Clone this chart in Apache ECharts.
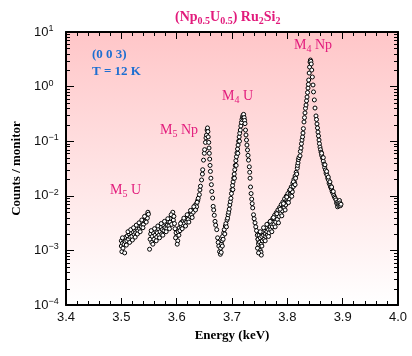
<!DOCTYPE html>
<html><head><meta charset="utf-8">
<script src="https://cdn.jsdelivr.net/npm/echarts@6/dist/echarts.min.js"></script>
<style>html,body{margin:0;padding:0;background:#fff}#c{width:412px;height:356px}</style>
</head><body><div id="c"></div>
<script>
// ---- data (energy keV, counts / monitor) ----
const m5uPoints = [
 [3.500,1.2e-3],[3.500,1.5e-3],[3.501,0.95e-3],[3.502,1.35e-3],[3.503,1.1e-3],[3.504,1.6e-3],[3.505,1.3e-3],
 [3.507,1.45e-3],[3.508,1.75e-3],[3.510,1.5e-3],[3.511,1.85e-3],[3.513,1.6e-3],[3.514,2.0e-3],[3.516,1.75e-3],
 [3.518,2.1e-3],[3.519,1.8e-3],[3.521,2.2e-3],[3.523,1.95e-3],[3.524,2.4e-3],[3.526,2.1e-3],[3.528,2.5e-3],
 [3.530,2.3e-3],[3.531,2.8e-3],[3.533,2.5e-3],[3.535,3.0e-3],[3.536,2.7e-3],[3.538,3.3e-3],[3.540,3.0e-3],
 [3.541,3.6e-3],[3.543,3.4e-3],[3.544,4.0e-3],[3.546,4.4e-3],[3.547,3.9e-3],[3.548,5.0e-3],[3.549,4.6e-3],
 [3.551,1.05e-3],
 [3.502,1.7e-3],[3.506,0.9e-3],[3.509,1.25e-3],[3.512,2.2e-3],[3.515,1.4e-3],[3.517,2.4e-3],[3.520,1.55e-3],
 [3.522,2.6e-3],[3.525,1.75e-3],[3.527,2.9e-3],[3.529,2.0e-3],[3.532,3.2e-3],[3.534,2.2e-3],[3.537,3.6e-3],
 [3.539,2.6e-3],[3.542,4.2e-3],[3.545,3.3e-3]
];
const m5npPoints = [
 [3.552,1.6e-3],[3.553,2.0e-3],[3.555,1.4e-3],[3.556,1.8e-3],[3.558,2.1e-3],[3.559,1.6e-3],[3.561,1.9e-3],
 [3.562,2.3e-3],[3.564,1.75e-3],[3.565,2.1e-3],[3.567,2.5e-3],[3.568,1.9e-3],[3.570,2.2e-3],[3.571,2.7e-3],
 [3.573,2.0e-3],[3.574,2.4e-3],[3.576,2.9e-3],[3.577,2.3e-3],[3.579,2.6e-3],[3.580,3.1e-3],[3.582,2.5e-3],
 [3.583,2.9e-3],[3.585,3.4e-3],[3.586,2.8e-3],[3.588,3.3e-3],[3.589,3.9e-3],[3.591,3.0e-3],[3.592,4.3e-3],
 [3.593,5.0e-3],[3.594,3.6e-3],[3.596,3.1e-3],[3.597,2.5e-3],[3.599,2.1e-3],[3.600,1.8e-3],[3.602,1.5e-3],
 [3.603,2.2e-3],[3.605,2.6e-3],[3.606,2.3e-3],[3.608,2.8e-3],[3.609,3.3e-3],[3.611,2.9e-3],[3.612,3.5e-3],
 [3.614,3.1e-3],[3.615,3.6e-3],[3.617,3.9e-3],[3.618,3.3e-3],[3.620,4.1e-3],[3.621,3.7e-3],[3.623,4.6e-3],
 [3.624,4.2e-3],[3.626,5.0e-3],[3.627,4.5e-3],[3.629,5.5e-3],[3.630,5.0e-3],[3.632,6.0e-3],[3.633,6.6e-3],
 [3.635,7.0e-3],[3.636,6.3e-3],[3.638,8.2e-3],[3.639,9.0e-3],[3.641,1.05e-2],[3.642,1.28e-2],[3.643,1.5e-2],
 [3.645,1.95e-2],[3.6465,2.5e-2],[3.647,3.0e-2],[3.6485,4.5e-2],[3.650,6.0e-2],[3.6505,7.0e-2],[3.652,9.5e-2],
 [3.653,0.115],[3.654,0.13],[3.655,0.16],[3.6557,0.175],
 [3.6565,0.15],[3.657,0.12],[3.658,0.095],[3.6585,0.075],[3.659,0.06],[3.6597,0.047],[3.6603,0.036],
 [3.661,0.028],[3.6618,0.021],[3.6627,0.016],[3.6635,0.012],[3.665,0.0091],[3.666,0.0064],[3.667,0.0055],
 [3.668,0.0044],[3.6693,0.0034],[3.6705,0.0029],[3.6724,0.0024],[3.674,0.0017],[3.675,0.0014],
 [3.6762,0.0012],[3.6775,0.00095],[3.679,0.00085],
 [3.554,2.3e-3],[3.557,1.3e-3],[3.560,2.5e-3],[3.563,1.5e-3],[3.566,2.8e-3],[3.569,1.7e-3],[3.572,3.1e-3],
 [3.575,1.9e-3],[3.578,3.4e-3],[3.581,2.2e-3],[3.584,3.8e-3],[3.587,2.5e-3],[3.590,4.5e-3],[3.595,4.2e-3],
 [3.598,1.7e-3],[3.601,1.3e-3],[3.604,1.9e-3],[3.607,3.1e-3],[3.610,2.5e-3],[3.613,3.9e-3],[3.616,2.8e-3],
 [3.619,4.5e-3],[3.622,3.3e-3],[3.625,5.4e-3],[3.628,4.0e-3],[3.631,6.3e-3],[3.634,5.5e-3],[3.637,7.6e-3]
];
const m4uPoints = [
 [3.6795,0.0011],[3.6805,0.00092],[3.681,0.0013],[3.682,0.0015],[3.6825,0.0012],[3.683,0.0018],[3.684,0.0016],
 [3.685,0.0021],[3.686,0.0024],[3.687,0.002],[3.688,0.0028],[3.689,0.0031],[3.690,0.0027],[3.691,0.0036],
 [3.692,0.0039],[3.693,0.0045],[3.694,0.005],[3.695,0.0057],[3.696,0.0068],[3.697,0.0078],[3.698,0.009],
 [3.699,0.011],[3.700,0.013],[3.701,0.0155],[3.702,0.018],[3.703,0.021],[3.704,0.025],[3.705,0.03],
 [3.706,0.036],[3.707,0.044],[3.708,0.052],[3.709,0.061],[3.710,0.072],[3.711,0.085],[3.712,0.1],
 [3.713,0.12],[3.714,0.14],[3.715,0.16],[3.716,0.19],[3.717,0.22],[3.718,0.25],[3.719,0.28],[3.720,0.30],
 [3.7205,0.26],[3.721,0.31],
 [3.7015,0.013],[3.7045,0.021],[3.7075,0.036],[3.7105,0.06],[3.7135,0.1],
 [3.722,0.27],[3.7228,0.24],[3.7235,0.21],[3.7244,0.16],[3.7253,0.13],[3.7262,0.105],[3.727,0.085],
 [3.728,0.069],[3.729,0.055],[3.7298,0.045],[3.7313,0.034],[3.732,0.027],[3.7326,0.021],[3.7335,0.0145],
 [3.7345,0.011],[3.7356,0.0087],[3.7365,0.0072],[3.7374,0.006],[3.7389,0.0045],[3.740,0.0038],
 [3.7416,0.0032],[3.743,0.0027],[3.7443,0.0023],[3.7457,0.0019],[3.747,0.0016],[3.7485,0.0014],
 [3.7497,0.0012],[3.751,0.001],[3.7524,0.00093],[3.753,0.00082]
];
const m4npPoints = [
 [3.746,0.0011],[3.747,0.0016],[3.748,0.0013],[3.749,0.0019],[3.750,0.0014],[3.751,0.0017],[3.752,0.0021],
 [3.753,0.0013],[3.754,0.0018],[3.755,0.0015],[3.756,0.0022],[3.757,0.0019],[3.758,0.0016],[3.759,0.0024],
 [3.760,0.002],[3.761,0.0018],[3.762,0.0026],[3.763,0.0022],[3.764,0.0019],[3.765,0.0029],[3.766,0.0024],
 [3.767,0.0021],[3.768,0.0032],[3.769,0.0027],[3.770,0.0024],[3.771,0.0035],[3.772,0.003],[3.773,0.0027],
 [3.774,0.0039],[3.775,0.0033],[3.776,0.003],[3.777,0.0044],[3.778,0.0037],[3.779,0.0033],[3.780,0.0049],
 [3.781,0.0041],[3.782,0.0037],[3.783,0.0055],[3.784,0.0046],[3.785,0.0042],[3.786,0.0061],[3.787,0.0052],
 [3.788,0.0047],[3.789,0.0069],[3.790,0.0058],[3.791,0.0053],[3.792,0.0077],[3.793,0.0065],[3.794,0.006],
 [3.795,0.0088],[3.796,0.0074],[3.797,0.0068],[3.798,0.0098],[3.799,0.0083],[3.800,0.0077],[3.801,0.011],
 [3.802,0.0094],[3.803,0.0088],[3.804,0.0125],[3.805,0.0107],[3.806,0.0101],[3.807,0.0145],[3.808,0.0125],
 [3.809,0.0118],[3.810,0.017],[3.811,0.0148],[3.812,0.02],[3.813,0.0175],[3.814,0.023],[3.815,0.021],
 [3.816,0.027],[3.817,0.025],[3.818,0.032],[3.8185,0.036],
 [3.748,0.0009],[3.751,0.0022],[3.754,0.0012],[3.757,0.0026],[3.760,0.0015],[3.763,0.003],[3.766,0.0018],
 [3.769,0.0034],[3.772,0.0022],[3.775,0.004],[3.778,0.0027],[3.781,0.0047],[3.784,0.0032],[3.787,0.0057],
 [3.790,0.0043],[3.793,0.0072],[3.796,0.0055],[3.799,0.0095],[3.802,0.0075],[3.805,0.013],[3.808,0.0098],
 [3.811,0.018],[3.814,0.016],
 [3.8193,0.040],[3.820,0.046],[3.821,0.05],[3.8229,0.054],[3.8235,0.065],[3.8247,0.075],[3.8255,0.09],
 [3.8265,0.105],[3.8275,0.12],[3.8283,0.141],[3.829,0.17],[3.8301,0.225],[3.831,0.27],[3.8319,0.33],
 [3.8328,0.4],[3.8338,0.46],[3.8347,0.55],[3.8356,0.645],[3.8365,0.78],[3.8374,0.94],[3.838,1.1],
 [3.8386,1.32],[3.8395,1.77],[3.8402,2.28],[3.841,2.82],[3.8418,3.07],[3.8425,2.9],
 [3.8432,2.6],[3.8441,2.01],[3.8452,1.5],[3.8464,1.07],[3.8473,0.80],[3.8488,0.57],[3.850,0.405],
 [3.8518,0.29],[3.8527,0.25],[3.8536,0.207],[3.8545,0.175],[3.8554,0.147],[3.8563,0.125],[3.8573,0.105],
 [3.858,0.09],[3.859,0.078],[3.860,0.07],[3.8609,0.063],[3.862,0.055],[3.8636,0.049],[3.865,0.043],
 [3.8663,0.038],[3.8675,0.033],[3.869,0.0297],[3.870,0.026],[3.8717,0.024],[3.873,0.021],[3.8744,0.0195],
 [3.8755,0.017],[3.8771,0.0158],[3.878,0.0145],[3.8798,0.0133],[3.881,0.012],[3.8825,0.0112],[3.884,0.0102],
 [3.8853,0.0095],[3.8865,0.009],[3.888,0.0084],[3.889,0.0075],[3.8898,0.0071],[3.8907,0.0063],[3.8916,0.0078],
 [3.8925,0.0069],[3.8934,0.0065],[3.8943,0.0082],[3.8952,0.0074],[3.896,0.0066],[3.897,0.007],
 [3.862,0.06],[3.865,0.05],[3.868,0.037],[3.871,0.028],[3.874,0.022],[3.877,0.018],[3.880,0.0145],[3.883,0.012]
];
const xRange = [3.4, 4.0];
const yRange = [1e-4, 10];
const minorMultipliers = [2,3,4,5,6,7,8,9];
const decades = [1e-4,1e-3,1e-2,1e-1,1];

const minorY = [];
decades.forEach(d => minorMultipliers.forEach(m => minorY.push([xRange[0], +(m*d).toPrecision(3)])));

const chart = echarts.init(document.getElementById('c'), null, {renderer:'canvas'});
const serif = '"Liberation Serif","DejaVu Serif",serif';
const sans = '"Liberation Sans",Arial,sans-serif';
const magenta = '#e21b7c';
const blue = '#1f6fd1';
const allPoints = m5uPoints.concat(m5npPoints, m4uPoints, m4npPoints);

function supLabel(v){
  const e = Math.round(Math.log10(v));
  return '10{sup|' + (e < 0 ? '\u2212' + (-e) : e) + '}';
}
const axisCommon = {
  axisLine:{show:true, onZero:false, lineStyle:{color:'#000', width:2}},
  splitLine:{show:false}
};
function magText(x, y, rich){
  return {type:'text', x:x, y:y, style:{text:rich, fill:magenta, font:'14px '+serif, verticalAlign:'middle', lineHeight:18,
    rich:{sub:{fontSize:10, fontFamily:serif, fill:magenta, verticalAlign:'bottom', lineHeight:18}}}, z:10};
}

chart.setOption({
  animation:false,
  backgroundColor:'#fff',
  title:{
    text:'(Np{sub|0.5}U{sub|0.5}) Ru{sub|2}Si{sub|2}',
    left:170, top:3,
    textStyle:{color:magenta, fontFamily:serif, fontWeight:'bold', fontSize:14, lineHeight:18,
      rich:{sub:{fontSize:10, fontWeight:'bold', fontFamily:serif, color:magenta, verticalAlign:'bottom', lineHeight:18}}}
  },
  grid:{left:66, right:14, top:32, bottom:51, show:true, borderWidth:0,
    backgroundColor:new echarts.graphic.LinearGradient(0,0,0,1,[{offset:0,color:'#ffc6c8'},{offset:1,color:'#ffffff'}])},
  xAxis:[
    Object.assign({type:'value', min:xRange[0], max:xRange[1], interval:0.1, position:'bottom',
      axisTick:{inside:true, length:7, lineStyle:{color:'#000', width:1}},
      minorTick:{show:true, splitNumber:5, length:4, lineStyle:{color:'#000', width:1}},
      axisLabel:{color:'#111', fontFamily:sans, fontSize:13, margin:6, formatter:v=>v.toFixed(1)},
      name:'Energy (keV)', nameLocation:'middle', nameGap:20,
      nameTextStyle:{color:'#000', fontFamily:serif, fontWeight:'bold', fontSize:13}}, axisCommon),
    Object.assign({type:'value', min:xRange[0], max:xRange[1], interval:0.1, position:'top',
      axisTick:{inside:true, length:7, lineStyle:{color:'#000', width:1}},
      minorTick:{show:true, splitNumber:5, length:4, lineStyle:{color:'#000', width:1}},
      axisLabel:{show:false}}, axisCommon)
  ],
  yAxis:[
    Object.assign({type:'log', logBase:10, min:yRange[0], max:yRange[1], position:'left',
      axisTick:{inside:true, length:8, lineStyle:{color:'#000', width:1}},
      axisLabel:{color:'#111', fontFamily:sans, fontSize:13, margin:32, align:'left', lineHeight:16,
        formatter:supLabel, rich:{sup:{fontSize:9, fontFamily:sans, color:'#111', verticalAlign:'top', lineHeight:16}}},
      name:'Counts / monitor', nameLocation:'middle', nameGap:43,
      nameTextStyle:{color:'#000', fontFamily:serif, fontWeight:'bold', fontSize:13}}, axisCommon),
    Object.assign({type:'log', logBase:10, min:yRange[0], max:yRange[1], position:'right',
      axisTick:{inside:true, length:8, lineStyle:{color:'#000', width:1}},
      axisLabel:{show:false}}, axisCommon)
  ],
  series:[
    {type:'custom', xAxisIndex:0, yAxisIndex:0, data:minorY, silent:true, clip:false, z:3,
      renderItem:function(params, api){
        const v = api.value(1);
        const pL = api.coord([xRange[0], v]);
        const pR = api.coord([xRange[1], v]);
        const y = Math.round(pL[1]) + 0.5;
        return {type:'group', children:[
          {type:'line', shape:{x1:pL[0], y1:y, x2:pL[0]+4, y2:y}, style:{stroke:'#000', lineWidth:1}},
          {type:'line', shape:{x1:pR[0]-4, y1:y, x2:pR[0], y2:y}, style:{stroke:'#000', lineWidth:1}}
        ]};
      }},
    {type:'scatter', xAxisIndex:0, yAxisIndex:0, data:allPoints, symbol:'circle', symbolSize:4,
      itemStyle:{color:'#ffffff', borderColor:'#000', borderWidth:1, opacity:1}, z:5}
  ],
  graphic:[
    {type:'text', x:92, y:55, style:{text:'(0 0 3)', fill:blue, font:'bold 13px '+serif, verticalAlign:'middle'}, z:10},
    {type:'text', x:92, y:72, style:{text:'T = 12 K', fill:blue, font:'bold 13px '+serif, verticalAlign:'middle'}, z:10},
    magText(294, 45, 'M{sub|4} Np'),
    magText(222, 96, 'M{sub|4} U'),
    magText(160, 130, 'M{sub|5} Np'),
    magText(110, 190, 'M{sub|5} U')
  ]
});
</script>
</body></html>
